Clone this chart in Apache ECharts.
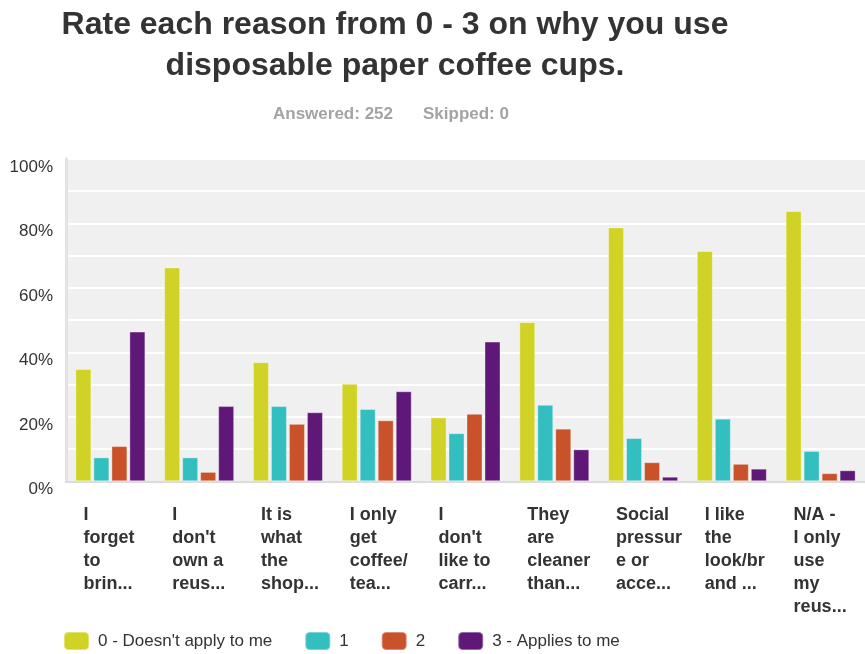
<!DOCTYPE html>
<html>
<head>
<meta charset="utf-8">
<script src="https://cdn.jsdelivr.net/npm/echarts@6/dist/echarts.min.js"></script>
<style>
  html, body { margin: 0; padding: 0; background: #fff; }
  #chart { width: 865px; height: 654px; }
</style>
</head>
<body>
<div id="chart"></div>
<script>
// Survey answer options (labels are pre-truncated the way the survey tool shows them)
const categories = [
  "I\nforget\nto\nbrin...",
  "I\ndon't\nown a\nreus...",
  "It is\nwhat\nthe\nshop...",
  "I only\nget\ncoffee/\ntea...",
  "I\ndon't\nlike to\ncarr...",
  "They\nare\ncleaner\nthan...",
  "Social\npressur\ne or\nacce...",
  "I like\nthe\nlook/br\nand ...",
  "N/A -\nI only\nuse\nmy\nreus..."
];

const seriesNames = ["0 - Doesn't apply to me", "1", "2", "3 - Applies to me"];

// Share of respondents (%) for each rating
const rating0 = [34.8, 66.3, 36.9, 30.2, 19.8, 49.3, 78.7, 71.4, 83.8];
const rating1 = [7.4, 7.4, 23.3, 22.4, 14.9, 23.7, 13.4, 19.4, 9.4];
const rating2 = [10.9, 2.9, 17.8, 18.9, 20.9, 16.3, 5.9, 5.4, 2.5];
const rating3 = [46.4, 23.3, 21.4, 27.9, 43.3, 9.9, 1.4, 3.9, 3.4];

const yTicks = [0, 20, 40, 60, 80, 100];

const colors = ['#d0d325', '#33bec0', '#c9522a', '#601878'];
const values = [rating0, rating1, rating2, rating3];

const chart = echarts.init(document.getElementById('chart'), null, { renderer: 'canvas' });

const series = values.map((v, i) => ({
  name: seriesNames[i],
  type: 'bar',
  data: v,
  barWidth: 16,
  barGap: '12.5%',
  itemStyle: {
    color: colors[i],
    borderColor: 'rgba(255,255,255,0.35)',
    borderWidth: 1
  },
  emphasis: { disabled: true }
}));

chart.setOption({
  animation: false,
  backgroundColor: '#ffffff',
  color: colors,
  title: {
    text: 'Rate each reason from 0 - 3 on why you use\ndisposable paper coffee cups.',
    left: 390,
    top: 0,
    textAlign: 'center',
    textStyle: {
      fontFamily: 'Liberation Sans, Arial, sans-serif',
      fontSize: 32,
      fontWeight: 'bold',
      color: '#333333',
      lineHeight: 41
    }
  },
  graphic: [
    {
      type: 'text',
      left: 273,
      top: 106,
      style: {
        text: 'Answered: 252',
        font: 'bold 17px "Liberation Sans", Arial, sans-serif',
        fill: '#a3a3a3'
      }
    },
    {
      type: 'text',
      left: 423,
      top: 106,
      style: {
        text: 'Skipped: 0',
        font: 'bold 17px "Liberation Sans", Arial, sans-serif',
        fill: '#a3a3a3'
      }
    }
  ],
  legend: {
    left: 58,
    top: 626,
    itemWidth: 25,
    itemHeight: 18,
    itemGap: 32,
    icon: 'roundRect',
    data: seriesNames,
    textStyle: {
      fontFamily: 'Liberation Sans, Arial, sans-serif',
      fontSize: 17,
      color: '#333333',
      padding: [0, 0, 0, 4]
    }
  },
  grid: {
    left: 66,
    right: 0,
    top: 158.75,
    bottom: 654 - 481.25,
    show: true,
    backgroundColor: '#f0f0f0',
    borderWidth: 0
  },
  xAxis: {
    type: 'category',
    data: categories,
    axisTick: { show: false },
    axisLine: { show: true, lineStyle: { color: '#dcdcdc', width: 2 } },
    axisLabel: {
      interval: 0,
      margin: 22,
      align: 'left',
      padding: [0, 0, 0, -27],
      fontFamily: 'Liberation Sans, Arial, sans-serif',
      fontSize: 18,
      fontWeight: 'bold',
      lineHeight: 23,
      color: '#333333'
    }
  },
  yAxis: {
    type: 'value',
    min: 0,
    max: 100,
    interval: 10,
    axisTick: { show: false },
    axisLine: { show: true, lineStyle: { color: '#e3e3e3', width: 3 } },
    splitLine: { show: true, lineStyle: { color: '#ffffff', width: 2 } },
    axisLabel: {
      margin: 13,
      verticalAlign: 'top',
      fontFamily: 'Liberation Sans, Arial, sans-serif',
      fontSize: 17,
      color: '#333333',
      formatter: v => (yTicks.indexOf(v) >= 0 ? v + '%' : '')
    }
  },
  series: series
});
</script>
</body>
</html>
